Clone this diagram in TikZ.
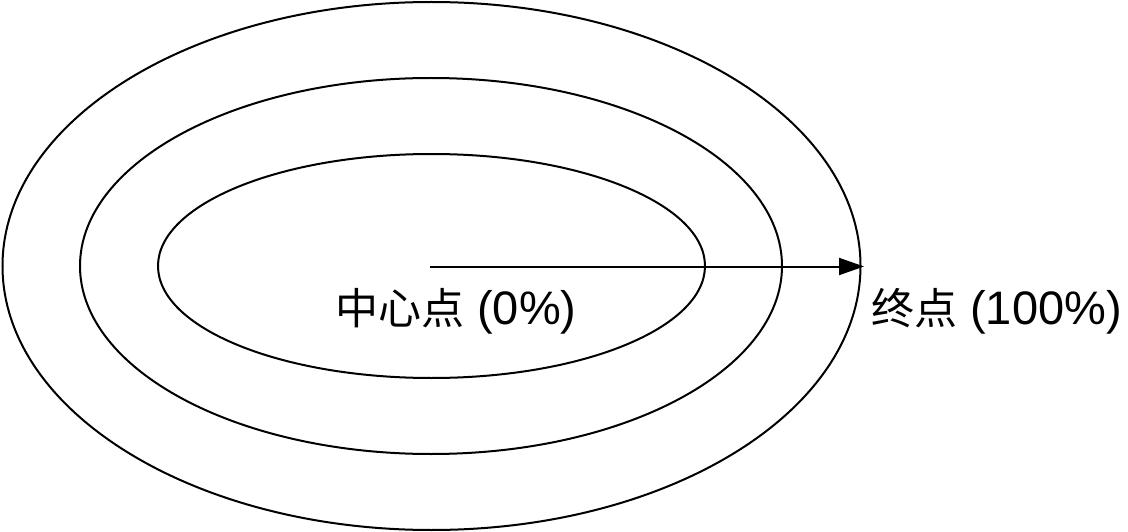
\documentclass[tikz,border=0pt]{standalone}
\usepackage{fontspec}
\setmainfont{Liberation Sans}
\newfontfamily\cjk{Noto Sans CJK SC}
\usetikzlibrary{arrows.meta}
\begin{document}
\begin{tikzpicture}[x=1pt,y=-1pt,
  ring/.style={draw=black,line width=2pt},
  lbl/.style={inner sep=0pt,anchor=base west,font=\fontsize{47}{50}\selectfont},
  conn/.style={line width=2pt,-{Triangle[length=25pt,width=17pt]}}]
\useasboundingbox (0,0) rectangle (1128,532);
\draw[ring] (431.5,266) ellipse [x radius=429,y radius=264];
\draw[ring] (431,266) ellipse [x radius=351,y radius=188];
\draw[ring] (431.5,266) ellipse [x radius=273.5,y radius=112];
\coordinate (c) at (430,266.5);
\coordinate (e) at (864,266.5);
\draw[conn] (c) -- (e);
\node[lbl] (l1) at (335,324) {{\cjk\fontsize{43}{50}\selectfont 中心点} (0\%)};
\node[lbl] (l2) at (871,324) {{\cjk\fontsize{43}{50}\selectfont 终点} (100\%)};
\end{tikzpicture}
\end{document}
